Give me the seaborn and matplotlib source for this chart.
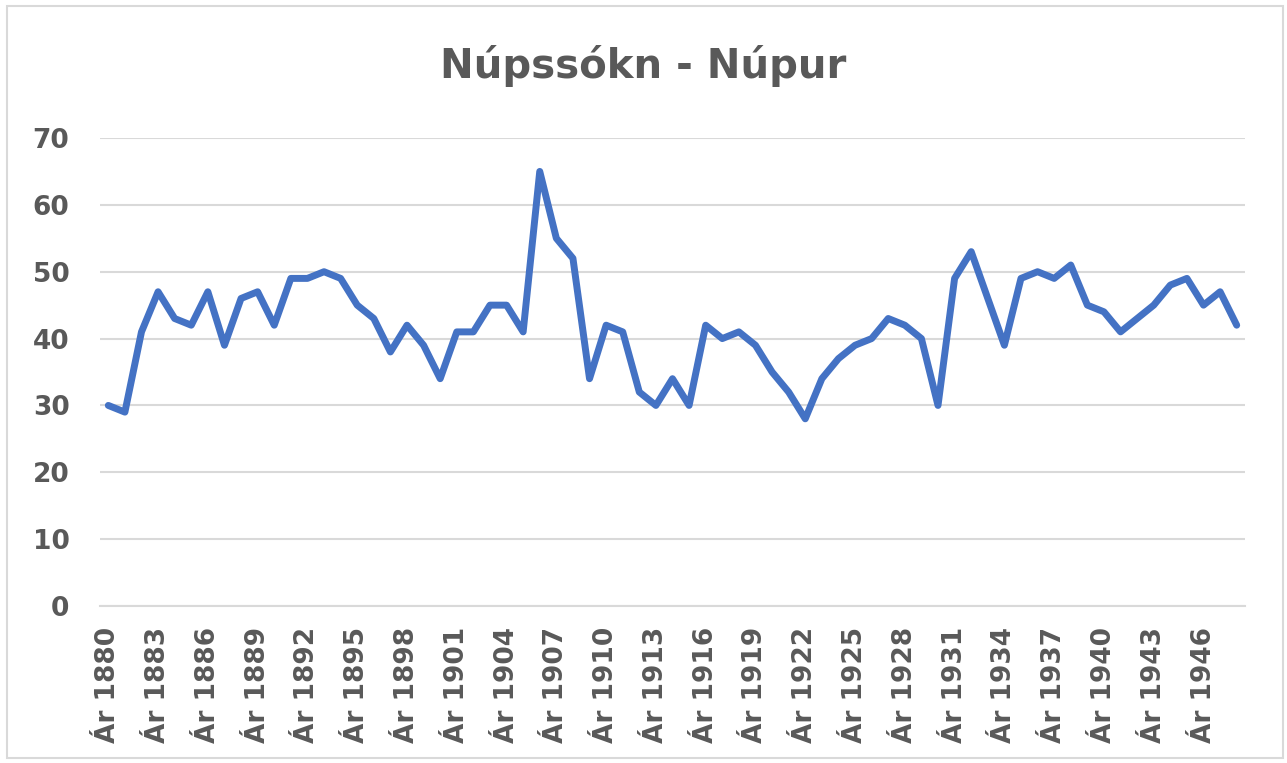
import seaborn as sns
import pandas as pd
import matplotlib.pyplot as plt
from matplotlib.patches import Rectangle

# gögnin - lesin af myndinni
years = list(range(1880, 1949))
values = [30, 29, 41, 47, 43, 42, 47, 39, 46, 47,
          42, 49, 49, 50, 49, 45, 43, 38, 42, 39,
          34, 41, 41, 45, 45, 41, 65, 55, 52, 34,
          42, 41, 32, 30, 34, 30, 42, 40, 41, 39,
          35, 32, 28, 34, 37, 39, 40, 43, 42, 40,
          30, 49, 53, 46, 39, 49, 50, 49, 51, 45,
          44, 41, 43, 45, 48, 49, 45, 47, 42]
tick_years = list(range(1880, 1949, 3))
tick_labels = [f"Ár {y}" for y in tick_years]
title = "Núpssókn - Núpur"

grey = '#595959'
grid = '#D9D9D9'

sns.set_theme(style='white')
plt.rcParams['font.family'] = ['DejaVu Sans']

df = pd.DataFrame({'Ár': years, 'Fjöldi': values})

fig = plt.figure(figsize=(12.87, 7.63), dpi=100)
ax = fig.add_axes([100 / 1287, 1 - 606 / 763, 1145 / 1287, 468 / 763])

sns.lineplot(data=df, x='Ár', y='Fjöldi', ax=ax, color='#4472C4', linewidth=5,
             solid_joinstyle='round', solid_capstyle='round')

ax.set_xlim(years[0] - 0.5, years[-1] + 0.5)
ax.set_ylim(0, 70)
ax.set_yticks(range(0, 71, 10))
ax.set_xticks(tick_years)
ax.set_xticklabels(tick_labels, rotation=90)
ax.set_xlabel('')
ax.set_ylabel('')

ax.yaxis.grid(True, color=grid, linewidth=1.5)
ax.xaxis.grid(False)
ax.set_axisbelow(True)
for s in ['top', 'right', 'left']:
    ax.spines[s].set_visible(False)
ax.spines['bottom'].set_color(grid)
ax.spines['bottom'].set_linewidth(1.5)

ax.tick_params(axis='y', length=0, pad=22, labelsize=19, labelcolor=grey)
ax.tick_params(axis='x', length=0, pad=15, labelsize=19, labelcolor=grey)
for lab in ax.get_xticklabels() + ax.get_yticklabels():
    lab.set_fontweight('bold')

fig.text(0.5, 1 - 66 / 763, title, ha='center', va='center',
         fontsize=29, fontweight='bold', color=grey)

# rammi utan um myndina
fig.patches.append(Rectangle((7 / 1287, 5 / 763), 1276 / 1287, 752 / 763,
                             transform=fig.transFigure, fill=False,
                             edgecolor=grid, linewidth=1.5))

fig.savefig('out.png', dpi=100)
